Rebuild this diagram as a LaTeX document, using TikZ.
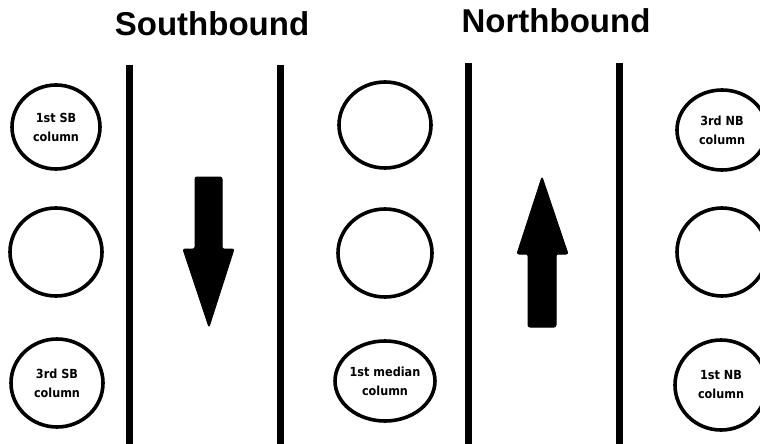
\documentclass[tikz,border=0pt]{standalone}
\usepackage{fontspec}
\setmainfont{Liberation Sans}
\newfontfamily\colfont[FakeStretch=0.9]{DejaVu Sans}
\usetikzlibrary{shapes.geometric}
\begin{document}
\begin{tikzpicture}[x=1pt,y=-1pt,
  column/.style={ellipse,draw=black,line width=3.6pt,fill=white,inner sep=0pt,
    align=center,font=\colfont\bfseries\fontsize{12.5}{19}\selectfont},
  divider/.style={line width=7pt,black},
  heading/.style={font=\bfseries\fontsize{33}{40}\selectfont,anchor=base},
  bigarrow/.style={fill=black,draw=black,line width=1pt,rounded corners=2pt,line join=round}]
\useasboundingbox (0,0) rectangle (760,444);
\clip (0,0) rectangle (760,444);
\fill[white] (0,0) rectangle (760,444);

% direction headings
\node[heading] (sb) at (212,36) {Southbound};
\node[heading] (nb) at (556,33) {Northbound};

% lane dividers
\coordinate (d1t) at (129.5,65);  \coordinate (d1b) at (129.5,444);
\coordinate (d2t) at (280,65);    \coordinate (d2b) at (280,444);
\coordinate (d3t) at (468,63);    \coordinate (d3b) at (468,444);
\coordinate (d4t) at (619,63);    \coordinate (d4b) at (619,444);
\draw[divider] (d1t) -- (d1b);
\draw[divider] (d2t) -- (d2b);
\draw[divider] (d3t) -- (d3b);
\draw[divider] (d4t) -- (d4b);

% southbound columns
\node[column,minimum width=88pt,minimum height=84pt] (sb1) at (56,127) {1st SB\\column};
\node[column,minimum width=92pt,minimum height=88pt] (sb2) at (56,252) {};
\node[column,minimum width=92pt,minimum height=88pt] (sb3) at (57,383) {3rd SB\\column};

% median columns
\node[column,minimum width=92pt,minimum height=86pt] (md1) at (385,125) {};
\node[column,minimum width=94pt,minimum height=88pt] (md2) at (385,253) {};
\node[column,minimum width=96pt,minimum height=80pt] (md3) at (385,381) {1st median\\column};

% northbound columns
\node[column,minimum width=90pt,minimum height=80pt] (nb3) at (722,130) {3rd NB\\column};
\node[column,minimum width=90pt,minimum height=88pt] (nb2) at (722,252) {};
\node[column,minimum width=92pt,minimum height=90pt] (nb1) at (721,385) {1st NB\\column};

% southbound direction arrow
\fill[bigarrow] (195,177) -- (222,177) -- (222,249) -- (234,249) -- (209,327)
  -- (183,249) -- (195,249) -- cycle;

% northbound direction arrow
\fill[bigarrow] (528,327) -- (556,327) -- (556,254) -- (568,254) -- (542,177)
  -- (517,254) -- (528,254) -- cycle;
\end{tikzpicture}
\end{document}
